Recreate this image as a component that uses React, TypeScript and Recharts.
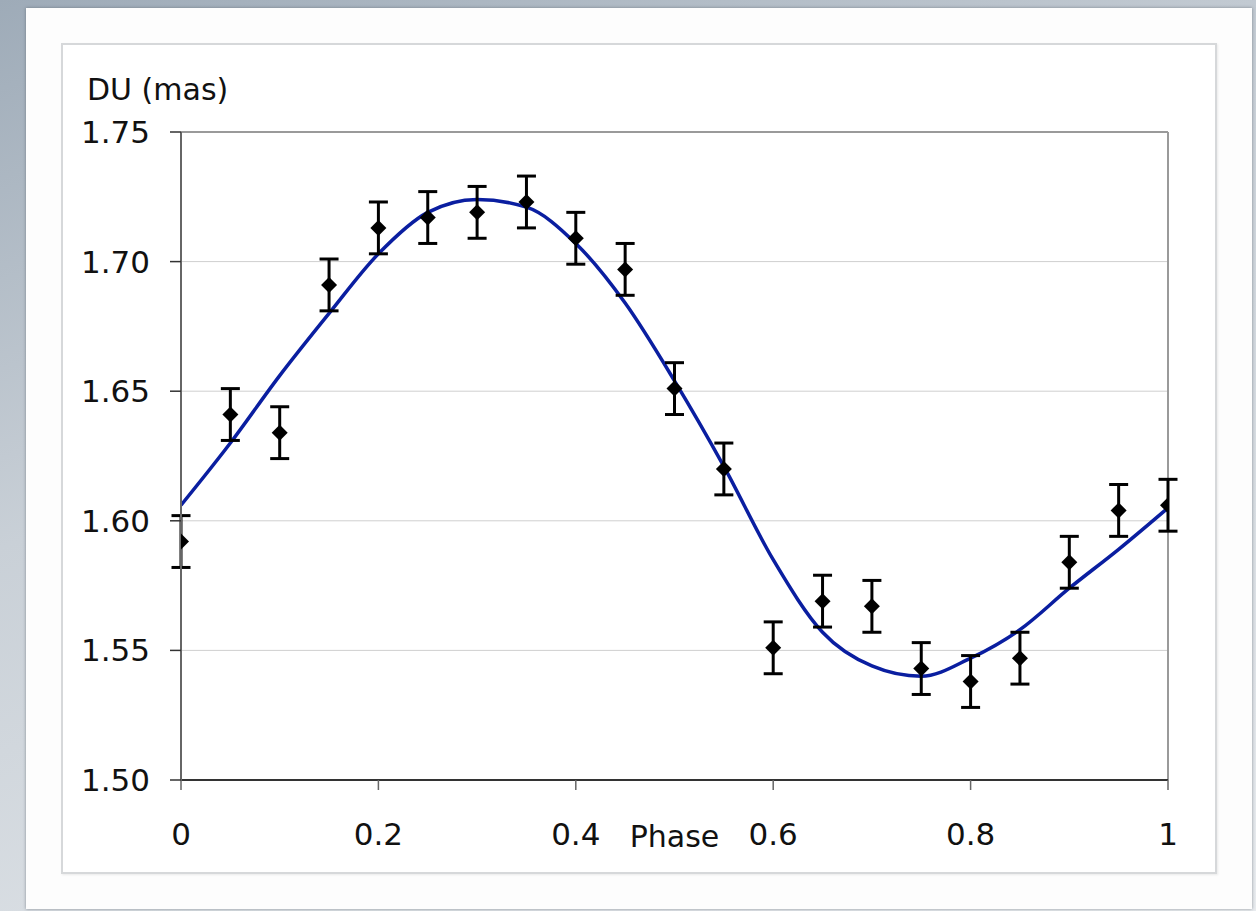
import {
  ComposedChart,
  Line,
  Scatter,
  ErrorBar,
  XAxis,
  YAxis,
  CartesianGrid,
  ReferenceLine,
  Label,
} from 'recharts'

const phase = [0, 0.05, 0.1, 0.15, 0.2, 0.25, 0.3, 0.35, 0.4, 0.45, 0.5, 0.55, 0.6, 0.65, 0.7, 0.75, 0.8, 0.85, 0.9, 0.95, 1]
const measuredDU = [1.592, 1.641, 1.634, 1.691, 1.713, 1.717, 1.719, 1.723, 1.709, 1.697, 1.651, 1.62, 1.551, 1.569, 1.567, 1.543, 1.538, 1.547, 1.584, 1.604, 1.606]
const measuredErr = [0.01, 0.01, 0.01, 0.01, 0.01, 0.01, 0.01, 0.01, 0.01, 0.01, 0.01, 0.01, 0.01, 0.01, 0.01, 0.01, 0.01, 0.01, 0.01, 0.01, 0.01]
const fitDU = [1.606, 1.63, 1.656, 1.68, 1.703, 1.719, 1.724, 1.721, 1.707, 1.684, 1.654, 1.621, 1.585, 1.557, 1.544, 1.54, 1.547, 1.558, 1.574, 1.589, 1.605]

const xTicks = [0, 0.2, 0.4, 0.6, 0.8, 1]
const yTicks = [1.5, 1.55, 1.6, 1.65, 1.7, 1.75]

const measured = phase.map((x, i) => ({ x, y: measuredDU[i], err: measuredErr[i] }))
const fit = phase.map((x, i) => ({ x, y: fitDU[i] }))

const FONT = '"DejaVu Sans", Verdana, sans-serif'

const Diamond = ({ cx, cy }: { cx?: number; cy?: number }) => {
  if (cx == null || cy == null) return null
  const r = 8
  return <polygon points={`${cx},${cy - r} ${cx + r},${cy} ${cx},${cy + r} ${cx - r},${cy}`} fill="#000" />
}

const YTitle = ({ viewBox }: any) => (
  <text x={viewBox.x + 26} y={viewBox.y - 32} fontFamily={FONT} fontSize={30} fill="#111">
    DU (mas)
  </text>
)

const XTitle = ({ viewBox }: any) => (
  <text
    x={viewBox.x + viewBox.width / 2}
    y={viewBox.y + 67}
    textAnchor="middle"
    fontFamily={FONT}
    fontSize={30}
    fill="#111"
  >
    Phase
  </text>
)

export default function App() {
  return (
    <div
      style={{
        position: 'fixed',
        left: 0,
        top: 0,
        width: 1256,
        height: 911,
        background: 'linear-gradient(160deg, #9eabb8 0%, #c9d0d7 40%, #e9ecef 100%)',
        overflow: 'hidden',
      }}
    >
      <div
        style={{
          position: 'absolute',
          left: 26,
          top: 8,
          width: 1226,
          height: 901,
          background: '#fdfdfd',
          boxShadow: '0 0 3px rgba(80,90,100,0.6)',
        }}
      />
      <div
        style={{
          position: 'absolute',
          left: 61,
          top: 43,
          width: 1152,
          height: 827,
          background: '#fff',
          border: '2px solid #d6d8da',
          boxShadow: '1px 1px 2px rgba(0,0,0,0.08)',
        }}
      />
      <div style={{ position: 'absolute', left: 0, top: 0 }}>
        <ComposedChart width={1256} height={911} margin={{ top: 132, right: 88, bottom: 51, left: 61 }}>
          <CartesianGrid vertical={false} stroke="#cfcfcf" strokeWidth={1} />
          <XAxis
            type="number"
            dataKey="x"
            domain={[0, 1]}
            ticks={xTicks}
            allowDataOverflow
            height={80}
            tickSize={10}
            tickMargin={33}
            axisLine={{ stroke: '#333', strokeWidth: 2 }}
            tickLine={{ stroke: '#666', strokeWidth: 1.5 }}
            tick={{ fill: '#111', fontSize: 31, fontFamily: FONT }}
          >
            <Label content={XTitle} />
          </XAxis>
          <YAxis
            type="number"
            dataKey="y"
            domain={[1.5, 1.75]}
            ticks={yTicks}
            allowDataOverflow
            width={120}
            tickSize={11}
            tickMargin={20}
            tickFormatter={(v: number) => v.toFixed(2)}
            axisLine={{ stroke: '#666', strokeWidth: 2 }}
            tickLine={{ stroke: '#333', strokeWidth: 1.5 }}
            tick={{ fill: '#111', fontSize: 31, fontFamily: FONT }}
          >
            <Label content={YTitle} />
          </YAxis>
          <ReferenceLine y={1.75} stroke="#9a9a9a" strokeWidth={2} />
          <ReferenceLine x={1} stroke="#9a9a9a" strokeWidth={2} />
          <Line
            data={fit}
            dataKey="y"
            type="monotone"
            stroke="#0a1ea0"
            strokeWidth={3.5}
            dot={false}
            activeDot={false}
            isAnimationActive={false}
          />
          <Scatter data={measured} dataKey="y" shape={Diamond} isAnimationActive={false}>
            <ErrorBar dataKey="err" direction="y" width={9.5} stroke="#000" strokeWidth={3} />
          </Scatter>
        </ComposedChart>
      </div>
    </div>
  )
}
